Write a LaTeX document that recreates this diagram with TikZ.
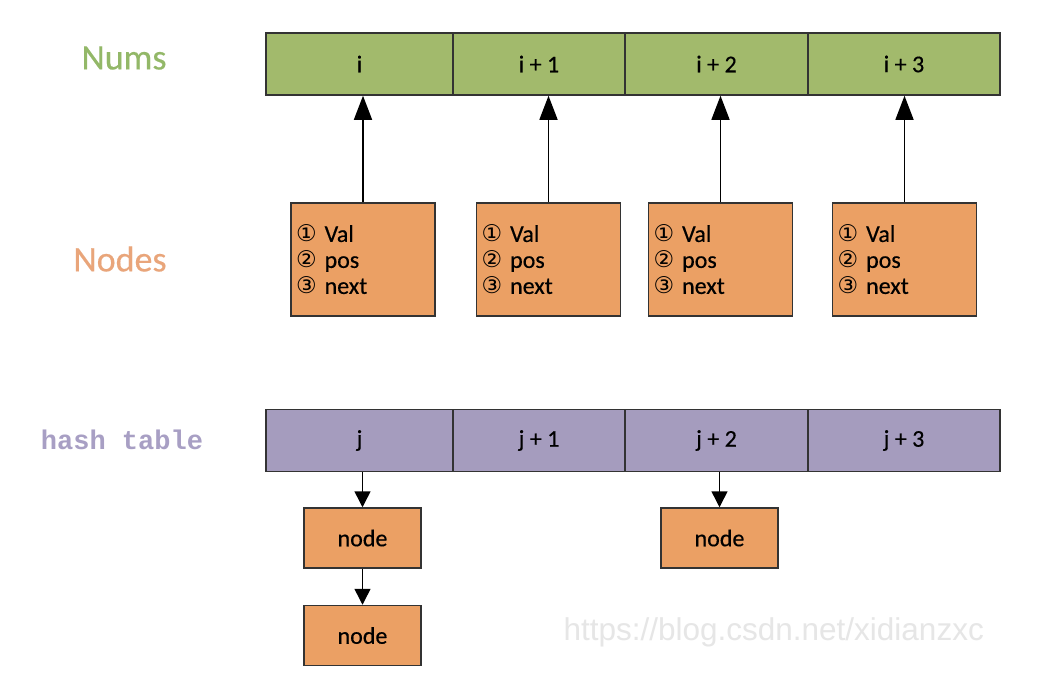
\documentclass[tikz,border=0pt]{standalone}
\usepackage{fontspec}
\setmainfont{Carlito}[FakeBold=0.4]
\newfontfamily\circfont{DejaVu Sans}
\newfontfamily\monofnt{Liberation Mono}
\newfontfamily\wmfont{Liberation Sans}
\usetikzlibrary{arrows.meta}
\definecolor{cellgreen}{HTML}{A2BA6C}
\definecolor{cellpurple}{HTML}{A59CBE}
\definecolor{boxorange}{HTML}{EBA064}
\definecolor{lblgreen}{HTML}{93B868}
\definecolor{lblorange}{HTML}{E9A57A}
\definecolor{lblpurple}{HTML}{A89FC4}
\definecolor{edge}{HTML}{333333}
\definecolor{wmgray}{HTML}{E6E6E6}
\newcommand{\cnum}[1]{{\circfont\fontsize{23}{23}\selectfont #1}}
\tikzset{
  cell/.style={draw=edge, line width=1.5pt, inner sep=0pt, minimum height=62pt,
    font=\fontsize{24}{26}\selectfont},
  numcell/.style={cell, fill=cellgreen},
  hashcell/.style={cell, fill=cellpurple},
  infobox/.style={draw=edge, line width=1.5pt, fill=boxorange, minimum width=144pt,
    minimum height=113pt, text width=134pt, inner xsep=5pt, align=left,
    font=\fontsize{24}{26}\selectfont},
  smallbox/.style={draw=edge, line width=1.5pt, fill=boxorange, minimum width=117pt,
    minimum height=60pt, inner sep=0pt, font=\fontsize{24}{26}\selectfont},
  uparrow/.style={draw=black, line width=1.5pt, -{Triangle[length=24pt,width=18pt]}},
  downarrow/.style={draw=black, line width=1.5pt, -{Triangle[length=16pt,width=16pt]}},
  rowlabel/.style={font=\fontsize{36}{36}\selectfont}
}
\begin{document}
\begin{tikzpicture}[x=1pt,y=-1pt]
\useasboundingbox (0,0) rectangle (1064,680);
\fill[white] (0,0) rectangle (1064,680);
% labels
\node[rowlabel, text=lblgreen] (lnums) at (124,58) {Nums};
\node[rowlabel, text=lblorange] (lnodes) at (120,259) {Nodes};
\node[text=lblpurple, font=\monofnt\bfseries\fontsize{27}{27}\selectfont] (lhash) at (122,440) {hash table};
% nums row
\node[numcell, minimum width=187pt] (n0) at (359.5,64) {i};
\node[numcell, minimum width=172pt] (n1) at (539,64) {i + 1};
\node[numcell, minimum width=183pt] (n2) at (716.5,64) {i + 2};
\node[numcell, minimum width=192pt] (n3) at (904,64) {i + 3};
% info boxes
\node[infobox] (b0) at (363,259.5) {\cnum{①} Val\\\cnum{②} pos\\\cnum{③} next};
\node[infobox] (b1) at (548.5,259.5) {\cnum{①} Val\\\cnum{②} pos\\\cnum{③} next};
\node[infobox] (b2) at (720.5,259.5) {\cnum{①} Val\\\cnum{②} pos\\\cnum{③} next};
\node[infobox] (b3) at (904.5,259.5) {\cnum{①} Val\\\cnum{②} pos\\\cnum{③} next};
\draw[uparrow] (b0.north) -- (b0.north |- n0.south);
\draw[uparrow] (b1.north) -- (b1.north |- n1.south);
\draw[uparrow] (b2.north) -- (b2.north |- n2.south);
\draw[uparrow] (b3.north) -- (b3.north |- n3.south);
% hash row
\node[hashcell, minimum width=187pt] (h0) at (359.5,440.5) {j};
\node[hashcell, minimum width=172pt] (h1) at (539,440.5) {j + 1};
\node[hashcell, minimum width=183pt] (h2) at (716.5,440.5) {j + 2};
\node[hashcell, minimum width=192pt] (h3) at (904,440.5) {j + 3};
% chained nodes
\node[smallbox] (c0) at (362.5,538) {node};
\node[smallbox] (c1) at (362.5,635.5) {node};
\node[smallbox] (c2) at (719.5,538) {node};
\draw[downarrow] (c0.north |- h0.south) -- (c0.north);
\draw[downarrow] (c0.south) -- (c1.north);
\draw[downarrow] (c2.north |- h2.south) -- (c2.north);
% watermark
\node[text=wmgray, font=\wmfont\fontsize{31.5}{31.5}\selectfont, anchor=west] (wm) at (560,632) {https://blog.csdn.net/xidianzxc};
\end{tikzpicture}
\end{document}
